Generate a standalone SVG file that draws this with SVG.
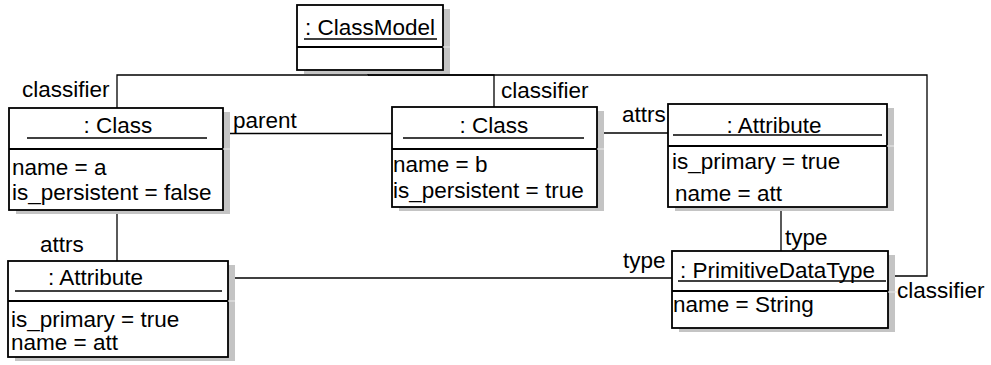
<svg xmlns="http://www.w3.org/2000/svg" width="991" height="365" viewBox="0 0 991 365">
<style>
text{font-family:"Liberation Sans",Arial,sans-serif;font-size:22.5px;fill:#000}
.box{fill:#fff;stroke:#000;stroke-width:1.8}
.sh{fill:#c4c4c4;stroke:none}
.div{stroke:#000;stroke-width:1.8}
.shd{stroke:#e6e6e6;stroke-width:1.2}
.ul{stroke:#000;stroke-width:1.6}
.c{fill:none;stroke:#000;stroke-width:1.3}
.m{text-anchor:middle}
</style>
<rect width="991" height="365" fill="#fff"/>
<g id="connectors">
<polyline class="c" points="368,70 368,75 117,75 117,108"/>
<polyline class="c" points="368,75 494,75 494,107"/>
<polyline class="c" points="368,75 927,75 927,276 888,276"/>
<line class="c" x1="223" y1="133.5" x2="392" y2="133.5"/>
<line class="c" x1="597" y1="133" x2="668" y2="133"/>
<line class="c" x1="117" y1="210" x2="117" y2="261"/>
<line class="c" x1="781" y1="207" x2="781" y2="251"/>
<line class="c" x1="228" y1="278" x2="672" y2="278"/>
<text x="22" y="97">classifier</text>
<text x="501" y="98">classifier</text>
<text x="897" y="298">classifier</text>
<text x="233" y="128">parent</text>
<text x="622" y="122">attrs</text>
<text x="40" y="252">attrs</text>
<text x="785" y="245">type</text>
<text x="623" y="268">type</text>
</g>
<g id="classModel">
<rect class="sh" x="304" y="9" width="146" height="65"/>
<rect class="box" x="297" y="5" width="146" height="65"/>
<line class="shd" x1="443" y1="47" x2="450" y2="47"/>
<line class="div" x1="297" y1="47" x2="443" y2="47"/>
<text class="m" x="370" y="35">: ClassModel</text>
<line class="ul" x1="304" y1="39" x2="437" y2="39"/>
</g>
<g id="classA">
<rect class="sh" x="16" y="112" width="214" height="102"/>
<rect class="box" x="9" y="108" width="214" height="102"/>
<line class="shd" x1="223" y1="149" x2="230" y2="149"/>
<line class="div" x1="9" y1="149" x2="223" y2="149"/>
<text class="m" x="118" y="133">: Class</text>
<line class="ul" x1="27" y1="138" x2="207" y2="138"/>
<text x="12" y="175">name = a</text>
<text x="12" y="200">is_persistent = false</text>
</g>
<g id="classB">
<rect class="sh" x="399" y="111" width="205" height="100"/>
<rect class="box" x="392" y="107" width="205" height="100"/>
<line class="shd" x1="597" y1="149" x2="604" y2="149"/>
<line class="div" x1="392" y1="149" x2="597" y2="149"/>
<text class="m" x="494" y="133">: Class</text>
<line class="ul" x1="403" y1="138" x2="584" y2="138"/>
<text x="393" y="172">name = b</text>
<text x="393" y="198">is_persistent = true</text>
</g>
<g id="attributeB">
<rect class="sh" x="675" y="108" width="219" height="103"/>
<rect class="box" x="668" y="104" width="219" height="103"/>
<line class="shd" x1="887" y1="146" x2="894" y2="146"/>
<line class="div" x1="668" y1="146" x2="887" y2="146"/>
<text class="m" x="774" y="133">: Attribute</text>
<line class="ul" x1="673" y1="135" x2="882" y2="135"/>
<text x="672" y="169">is_primary = true</text>
<text x="675" y="201">name = att</text>
</g>
<g id="attributeA">
<rect class="sh" x="15" y="265" width="220" height="96"/>
<rect class="box" x="8" y="261" width="220" height="96"/>
<line class="shd" x1="228" y1="301" x2="235" y2="301"/>
<line class="div" x1="8" y1="301" x2="228" y2="301"/>
<text x="48" y="285">: Attribute</text>
<line class="ul" x1="15" y1="291" x2="222" y2="291"/>
<text x="11" y="327">is_primary = true</text>
<text x="11" y="350">name = att</text>
</g>
<g id="primitiveDataType">
<rect class="sh" x="679" y="255" width="216" height="77"/>
<rect class="box" x="672" y="251" width="216" height="77"/>
<line class="shd" x1="888" y1="292" x2="897" y2="292"/>
<line class="div" x1="672" y1="291" x2="888" y2="291"/>
<text x="680" y="278">: PrimitiveDataType</text>
<line class="ul" x1="678" y1="281" x2="886" y2="281"/>
<text x="673" y="312">name = String</text>
</g>
</svg>
